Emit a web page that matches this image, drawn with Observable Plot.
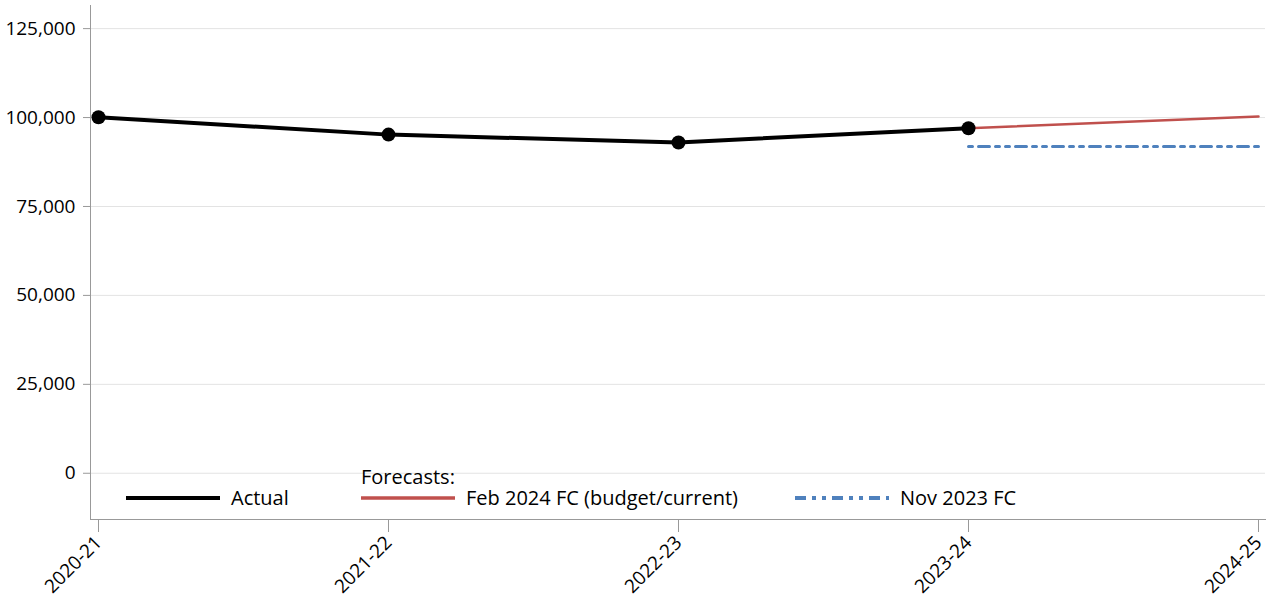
<!DOCTYPE html>
<html>
<head>
<meta charset="utf-8">
<script src="https://cdn.jsdelivr.net/npm/d3@7"></script>
<script src="https://cdn.jsdelivr.net/npm/@observablehq/plot@0.6"></script>
<style>
  body { margin: 0; background: #fff; font-family: "Open Sans", sans-serif; }
  #wrap { position: relative; width: 1275px; height: 600px; }
  #wrap svg text { font-size: 19px; font-family: "Open Sans", sans-serif; fill: #000; }
  #legend { position: absolute; left: 0; top: 0; width: 1275px; height: 600px; pointer-events: none; font-size: 20px; color: #000; }
  .item { position: absolute; display: flex; align-items: center; white-space: nowrap; }
  .item svg { margin-right: 11px; }
  .fc { position: absolute; white-space: nowrap; }
</style>
</head>
<body>
<div id="wrap"></div>
<script>
const years = ["2020-21", "2021-22", "2022-23", "2023-24", "2024-25"];
const actualYears = ["2020-21", "2021-22", "2022-23", "2023-24"];
const actualValues = [100100, 95200, 93000, 97000];
const febYears = ["2023-24", "2024-25"];
const febValues = [97000, 100300];
const novYears = ["2023-24", "2024-25"];
const novValues = [91850, 91850];
const yTicks = [0, 25000, 50000, 75000, 100000, 125000];

const actual = actualYears.map((y, i) => ({year: y, value: actualValues[i]}));
const feb = febYears.map((y, i) => ({year: y, value: febValues[i]}));
const nov = novYears.map((y, i) => ({year: y, value: novValues[i]}));

const chart = Plot.plot({
  width: 1275,
  height: 600,
  marginLeft: 90,
  marginRight: 10,
  marginTop: 5,
  marginBottom: 81,
  style: {fontFamily: "Open Sans", fontSize: "19px", color: "#000", background: "#fff"},
  x: {type: "point", domain: years, padding: 0, insetLeft: 7, insetRight: 6},
  y: {domain: [-13000, 131500]},
  marks: [
    Plot.gridY(yTicks, {stroke: "#e3e3e3", strokeOpacity: 1, strokeWidth: 1}),
    Plot.frame({anchor: "left", stroke: "#999"}),
    Plot.frame({anchor: "bottom", stroke: "#999"}),
    Plot.axisY({ticks: yTicks, tickSize: 7, tickPadding: 8, tickFormat: d3.format(","), label: null, stroke: "#999", fontSize: 19}),
    Plot.axisX({ticks: years, tickSize: 13, tickPadding: 7, tickRotate: -45, label: null, stroke: "#999", fontSize: 19}),
    Plot.line(nov, {x: "year", y: "value", stroke: "#4f81bd", strokeWidth: 3, strokeDasharray: "4,6,11,6,4,6"}),
    Plot.line(feb, {x: "year", y: "value", stroke: "#c0504d", strokeWidth: 2.5}),
    Plot.line(actual, {x: "year", y: "value", stroke: "#000", strokeWidth: 4}),
    Plot.dot(actual, {x: "year", y: "value", r: 7, fill: "#000"})
  ]
});

const wrap = document.getElementById("wrap");
wrap.appendChild(chart);

const legend = document.createElement("div");
legend.id = "legend";
function swatch(color, width, dash) {
  return `<svg width="94" height="10"><line x1="0" x2="94" y1="5" y2="5" stroke="${color}" stroke-width="${width}" ${dash ? `stroke-dasharray="${dash}"` : ""}/></svg>`;
}
legend.innerHTML = `
  <div class="fc" style="left:361px; top:463px;">Forecasts:</div>
  <div class="item" style="left:126px; top:484px;">${swatch("#000", 4)}<span>Actual</span></div>
  <div class="item" style="left:361px; top:484px;">${swatch("#c0504d", 3.5)}<span>Feb 2024 FC (budget/current)</span></div>
  <div class="item" style="left:795px; top:484px;">${swatch("#4f81bd", 4, "11,6,4,6,4,6")}<span>Nov 2023 FC</span></div>
`;
wrap.appendChild(legend);
</script>
</body>
</html>
